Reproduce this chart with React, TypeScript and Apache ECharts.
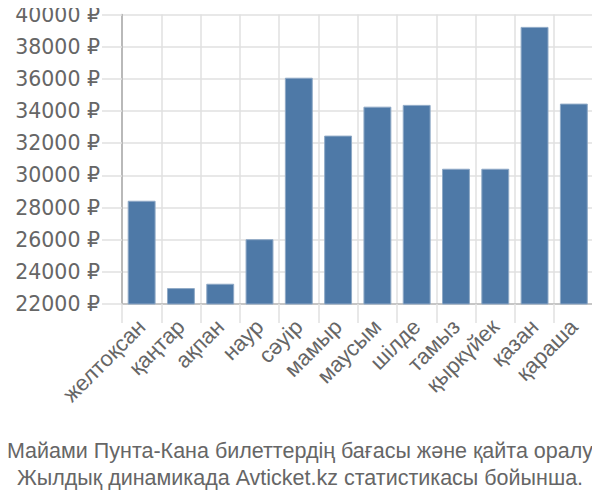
import React, { useEffect, useRef } from "react";
import * as echarts from "echarts";

const categories = ["желтоқсан", "қаңтар", "ақпан", "наур", "сәуір", "мамыр", "маусым", "шілде", "тамыз", "қыркүйек", "қазан", "қараша"];
const prices = [28420, 22990, 23260, 26030, 36070, 32470, 34270, 34380, 30410, 30410, 39230, 34460];
const titleLines = ["Майами Пунта-Кана билеттердің бағасы және қайта оралу", "Жылдық динамикада Avticket.kz статистикасы бойынша."];

export default function App() {
  const ref = useRef<HTMLDivElement>(null);
  useEffect(() => {
    const chart = echarts.init(ref.current!, null, { renderer: "svg" });
    chart.setOption({
      animation: false,
      textStyle: { fontFamily: "Liberation Sans, Arial, sans-serif" },
      title: {
        text: titleLines.join("\n"),
        left: "center",
        top: 432,
        textStyle: { fontSize: 21.5, fontWeight: "normal", color: "#666", lineHeight: 27, fontFamily: "Liberation Sans, Arial, sans-serif" },
      },
      grid: { left: 122, right: 6.5, top: 14.5, bottom: 196, containLabel: false },
      xAxis: {
        type: "category",
        data: categories,
        axisLine: { lineStyle: { color: "#bbb", width: 1.5 } },
        axisTick: { show: true, length: 19, lineStyle: { color: "#e0e0e0", width: 1.5 } },
        splitLine: { show: true, lineStyle: { color: "#e0e0e0", width: 1.5 } },
        axisLabel: { rotate: 45, fontSize: 22, color: "#666", margin: 19, interval: 0 },
      },
      yAxis: {
        type: "value",
        min: 22000,
        max: 40000,
        interval: 2000,
        axisLine: { show: true, lineStyle: { color: "#aaa", width: 1.5 } },
        axisTick: { show: true, length: 20, lineStyle: { color: "#e0e0e0", width: 1.5 } },
        splitLine: { show: true, lineStyle: { color: "#e0e0e0", width: 1.5 } },
        axisLabel: { formatter: (v: number) => `${v} ₽`, fontSize: 20.5, color: "#666", margin: 22, fontFamily: "DejaVu Sans, sans-serif" },
      },
      series: [
        {
          type: "bar",
          data: prices,
          barWidth: "71%",
          itemStyle: { color: "#4e79a7", borderColor: "#8fa9c6", borderWidth: 1 },
        },
      ],
    });
    return () => chart.dispose();
  }, []);
  return <div ref={ref} style={{ width: 600, height: 500, margin: -8 }} />;
}
